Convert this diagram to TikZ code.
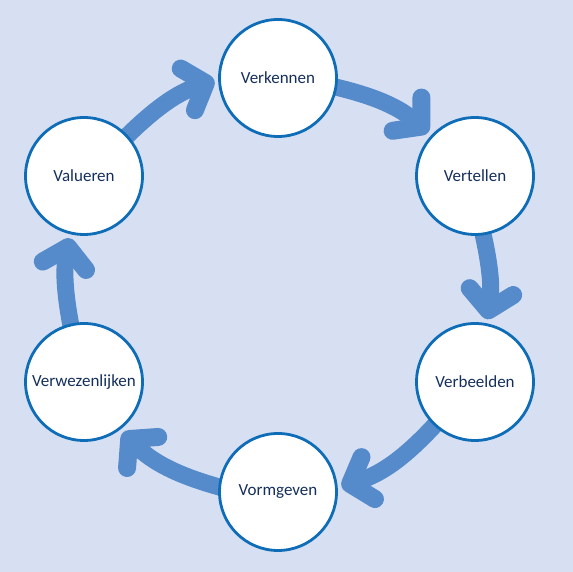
\documentclass[tikz,border=0pt]{standalone}
\usepackage{fontspec}
\setmainfont{Carlito}
\usetikzlibrary{arrows.meta, backgrounds}
\definecolor{backblue}{HTML}{D7E0F2}
\definecolor{ringblue}{HTML}{0F6DB8}
\definecolor{arrowblue}{HTML}{568BCB}
\definecolor{textblue}{HTML}{152F5C}

\begin{document}
\begin{tikzpicture}[x = 1pt, y = 1pt,
    stage/.style = {draw = ringblue, line width = 2.8pt, fill = white, circle,
      minimum size = 117pt, inner sep = 0pt, text = textblue,
      font = \fontsize{17}{20}\selectfont},
    stagearrow/.style = {draw = arrowblue, line width = 17pt,
      -{Straight Barb[round, length = 19pt, width = 44pt, line width = 18pt]},
      shorten > = 4pt, shorten < = -6pt}]
    \useasboundingbox (0, 0) rectangle (573, 572);
    \node (verkennen)      at (278, 494) [stage] {Verkennen};
    \node (vertellen)      at (475, 396) [stage] {Vertellen};
    \node (verbeelden)     at (475, 190) [stage] {Verbeelden};
    \node (vormgeven)      at (278,  80) [stage] {Vormgeven};
    \node (verwezenlijken) at ( 84, 190) [stage] {Verwezenlijken};
    \node (valueren)       at ( 84, 396) [stage] {Valueren};
    \begin{pgfonlayer}{background}
      \fill [backblue] (0, 0) rectangle (573, 572);
      \draw [stagearrow] (verkennen.-9)       to [bend left = 14] (vertellen.137);
      \draw [stagearrow] (vertellen.-82)      to [bend left = 11] (verbeelden.79);
      \draw [stagearrow] (verbeelden.-133)    to [bend left = 15] (vormgeven.4);
      \draw [stagearrow] (vormgeven.175)      to [bend left = 15] (verwezenlijken.-53);
      \draw [stagearrow] (verwezenlijken.103) to [bend left = 11] (valueren.-103);
      \draw [stagearrow] (valueren.43)        to [bend left = 13] (verkennen.181);
    \end{pgfonlayer}
  \end{tikzpicture}
\end{document}
